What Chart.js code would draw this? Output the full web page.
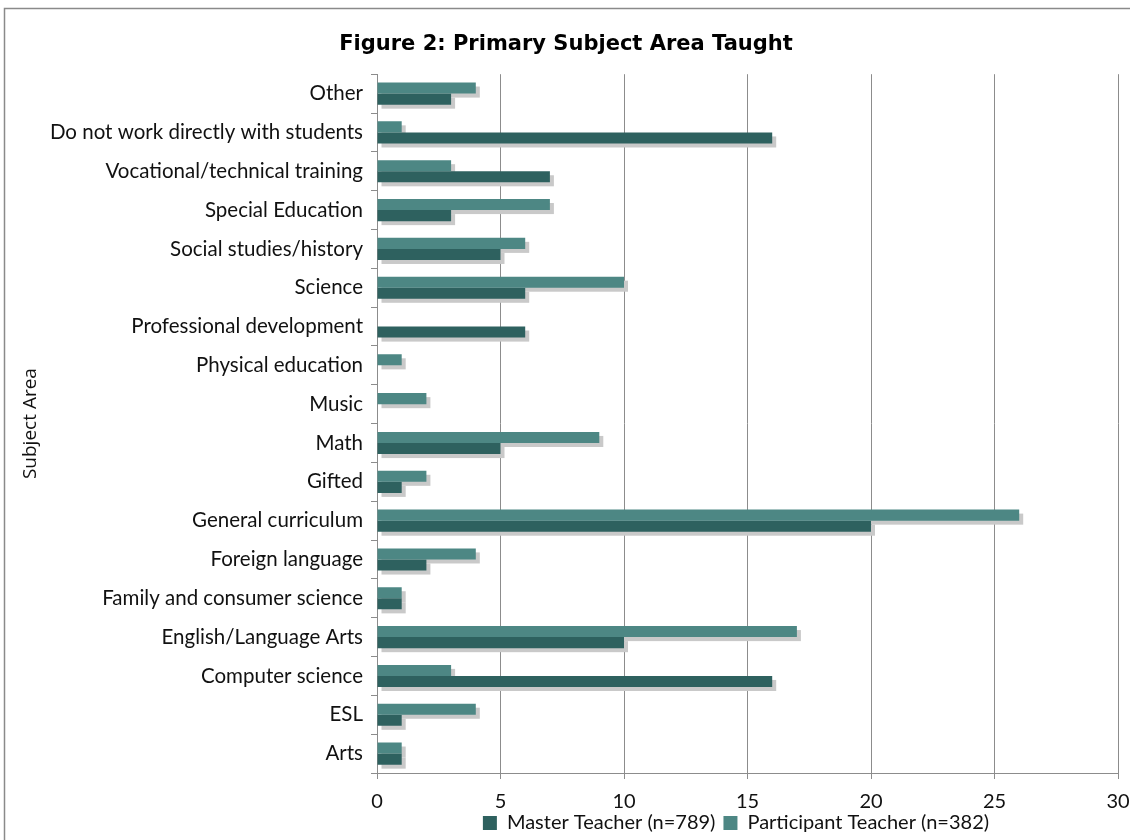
<!DOCTYPE html>
<html>
<head>
<meta charset="utf-8">
<script src="https://cdn.jsdelivr.net/npm/chart.js@4"></script>
<style>
  html, body { margin: 0; padding: 0; background: #fff; }
  #wrap { width: 1130px; height: 840px; }
</style>
</head>
<body>
<div id="wrap"><canvas id="chart" width="1130" height="840"></canvas></div>
<script>
const categories = [
  "Other", "Do not work directly with students", "Vocational/technical training",
  "Special Education", "Social studies/history", "Science", "Professional development",
  "Physical education", "Music", "Math", "Gifted", "General curriculum",
  "Foreign language", "Family and consumer science", "English/Language Arts",
  "Computer science", "ESL", "Arts"
];
const participantValues = [4, 1, 3, 7, 6, 10, 0, 1, 2, 9, 2, 26, 4, 1, 17, 3, 4, 1];
const masterValues = [3, 16, 7, 3, 5, 6, 6, 0, 0, 5, 1, 20, 2, 1, 10, 16, 1, 1];
const xTicks = [0, 5, 10, 15, 20, 25, 30];

Chart.defaults.font.family = "Lato, 'DejaVu Sans', sans-serif";
Chart.defaults.color = "#111";

// grey drop shadow under each bar, drawn before the bars
const barShadow = {
  id: "barShadow",
  beforeDatasetsDraw(chart) {
    const ctx = chart.ctx;
    ctx.save();
    ctx.fillStyle = "#c9c9c9";
    chart.data.datasets.forEach((ds, i) => {
      chart.getDatasetMeta(i).data.forEach((bar) => {
        if (Math.abs(bar.x - bar.base) < 0.5) return;
        ctx.fillRect(bar.base + 4, bar.y - bar.height / 2 + 4, bar.x - bar.base, bar.height);
      });
    });
    ctx.restore();
  },
};

const frame = {
  id: "frame",
  beforeDraw(chart) {
    const ctx = chart.ctx;
    ctx.save();
    ctx.strokeStyle = "#8a8a8a";
    ctx.lineWidth = 1.5;
    ctx.strokeRect(4.5, 8.5, 1300, 1000);
    ctx.restore();
  },
};

// the legend sits right of centre in the original
const legendShift = {
  id: "legendShift",
  afterLayout(chart) {
    chart.legend.left += 170;
    chart.legend.right += 170;
    chart.legend.top -= 8;
    chart.legend.bottom -= 8;
  },
};

new Chart(document.getElementById("chart"), {
  type: "bar",
  data: {
    labels: categories,
    datasets: [
      {
        label: "Participant Teacher (n=382)",
        data: participantValues,
        backgroundColor: "#4d8784",
        categoryPercentage: 0.57,
        barPercentage: 1.0,
      },
      {
        label: "Master Teacher (n=789)",
        data: masterValues,
        backgroundColor: "#2e615f",
        categoryPercentage: 0.57,
        barPercentage: 1.0,
      },
    ],
  },
  options: {
    indexAxis: "y",
    responsive: false,
    animation: false,
    layout: { padding: { top: 18, left: 14, right: 12, bottom: -11 } },
    plugins: {
      title: {
        display: true,
        text: "Figure 2: Primary Subject Area Taught",
        font: { family: "'DejaVu Sans', sans-serif", size: 21, weight: "bold" },
        color: "#000",
        padding: { top: 14, bottom: 17 },
      },
      legend: {
        position: "bottom",
        reverse: true,
        labels: {
          boxWidth: 14,
          boxHeight: 14,
          padding: 8,
          font: { size: 20 },
          color: "#111",
        },
      },
      tooltip: { enabled: false },
    },
    scales: {
      x: {
        min: 0,
        max: 30,
        afterBuildTicks(scale) {
          scale.ticks = xTicks.map((v) => ({ value: v }));
        },
        afterFit(scale) {
          scale.height = 40;
          scale.paddingRight = 0;
        },
        grid: { color: "#8c8c8c", tickLength: 6, lineWidth: 1 },
        border: { color: "#8c8c8c" },
        ticks: { font: { size: 20 }, color: "#111", padding: 11 },
      },
      y: {
        afterFit(scale) { scale.width = 363; },
        grid: { drawOnChartArea: false, color: "#8c8c8c", tickLength: 6 },
        border: { color: "#8c8c8c" },
        ticks: { font: { size: 20.5 }, color: "#111", padding: 8 },
        title: {
          display: true,
          text: "Subject Area",
          font: { family: "'Open Sans', sans-serif", size: 19 },
          color: "#111",
          padding: { top: 5, bottom: 0 },
        },
      },
    },
  },
  plugins: [barShadow, frame, legendShift],
});
</script>
</body>
</html>
